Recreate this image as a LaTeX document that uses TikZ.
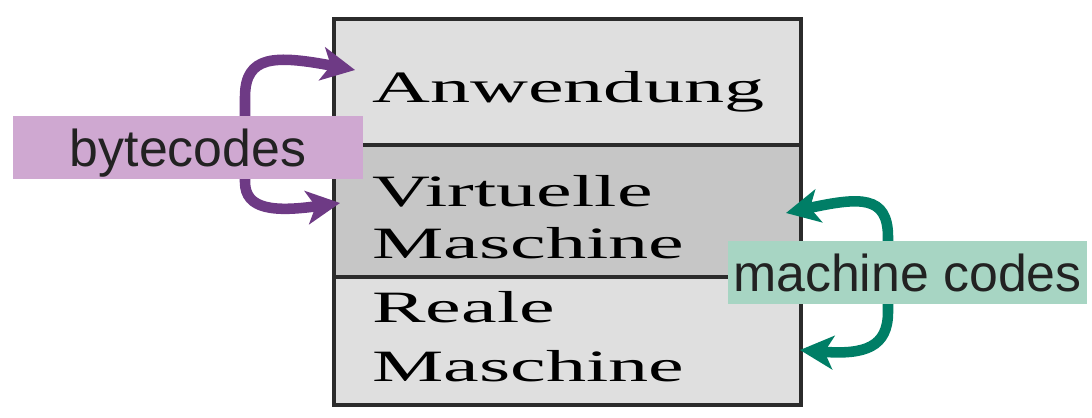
\documentclass[tikz,border=0pt]{standalone}
\usepackage{fontspec}
\setmainfont{Liberation Serif}
\setsansfont{Liberation Sans}
\usepackage{tikz}
\usetikzlibrary{calc, positioning, arrows.meta}
\definecolor{layerlight}{HTML}{DFDFDF}
\definecolor{layerdark}{HTML}{C6C6C6}
\definecolor{layerline}{HTML}{2B2B2B}
\definecolor{bytepurple}{HTML}{6E3A85}
\definecolor{bytefill}{HTML}{CFA8D1}
\definecolor{codegreen}{HTML}{007E66}
\definecolor{codefill}{HTML}{A7D5C3}
\definecolor{labeltext}{HTML}{222222}
\newcommand\layertext[1]{\scalebox{1.79}[1]{\begin{tabular}[t]{@{}l@{}}#1\end{tabular}}}

\begin{document}
\begin{tikzpicture}[x=0.02cm, y=0.02cm,
	layer/.style={draw=layerline, line width=2.3pt, minimum width=9.34cm, inner sep=0pt, outer sep=0pt},
	layerlabel/.style={anchor=base west, inner sep=0pt, font=\fontsize{25.5}{30}\selectfont},
	codelabel/.style={inner sep=0pt, text height=28.9pt, text depth=6.8pt, text=labeltext, font=\sffamily\fontsize{29.5}{34}\selectfont},
	codearrow/.style={line width=6pt, {Stealth[length=19pt,width=19pt,inset=5pt]}-{Stealth[length=19pt,width=19pt,inset=5pt]}}]
\useasboundingbox (0,0) rectangle (1092,417);

	\node[layer, fill=layerlight, minimum height=2.52cm] (app) at (567.5,335) {};
	\node[layer, fill=layerlight, minimum height=2.56cm] (hw) at (567.5,76) {};
	\node[layer, fill=layerdark, minimum height=2.64cm] (vm) at (567.5,206) {};

	\node[layerlabel] (apptext) at (372,315) {\layertext{Anwendung}};
	\node[layerlabel] (vmtext) at (372,211) {\layertext{Virtuelle\\Maschine}};
	\node[layerlabel] (hwtext) at (372,95) {\layertext{Reale\\[4pt]Maschine}};

	\coordinate (apptip) at ($(app.west)+(21,12)$);
	\coordinate (vmtipL) at ($(vm.west)+(6,8)$);
	\coordinate (vmtipR) at ($(vm.east)+(-15,-2)$);
	\coordinate (hwtip) at ($(hw.east)+(-1,-9)$);

	\draw[codearrow, bytepurple] (apptip) .. controls (275,362) and (245,362) .. (245,320) -- (245,235) .. controls (245,207) and (275,205) .. (vmtipL);
	\draw[codearrow, codegreen] (vmtipR) .. controls (860,220) and (888,222) .. (888,180) -- (888,105) .. controls (888,70) and (865,62) .. (hwtip);

	\node[codelabel, fill=bytefill, minimum width=7cm] (bytecodes) at (188,269.5) {bytecodes};
	\node[codelabel, fill=codefill, minimum width=7.18cm] (machinecodes) at (907.5,144.5) {machine codes};
\end{tikzpicture}
\end{document}
